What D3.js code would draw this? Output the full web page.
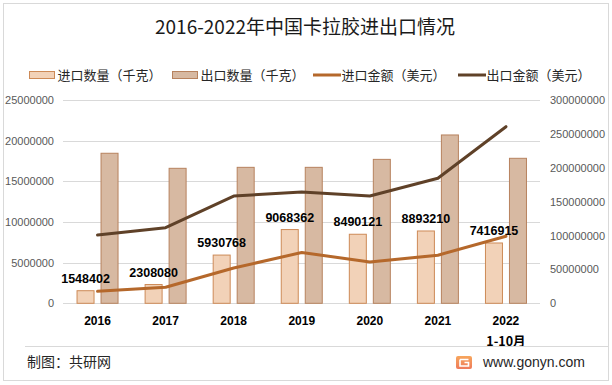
<!DOCTYPE html>
<html>
<head>
<meta charset="utf-8">
<script src="https://cdn.jsdelivr.net/npm/d3@7"></script>
<style>
    body { margin: 0; background: #fff; }
    svg { display: block; }
</style>
</head>
<body>
<script>
    // 数据
    const years = ['2016', '2017', '2018', '2019', '2020', '2021', '2022'];
    const importQty = [1548402, 2308080, 5930768, 9068362, 8490121, 8893210, 7416915];
    const exportQty = [18450000, 16600000, 16720000, 16720000, 17700000, 20700000, 17830000];
    const importAmt = [17700000, 23600000, 52000000, 75000000, 61000000, 71000000, 99000000];
    const exportAmt = [100800000, 111600000, 158300000, 164200000, 158300000, 184500000, 260600000];
    const leftTicks = [0, 5000000, 10000000, 15000000, 20000000, 25000000];
    const rightTicks = [0, 50000000, 100000000, 150000000, 200000000, 250000000, 300000000];

    const width = 612;
    const height = 385;
    const font = '"Noto Sans CJK SC", "Noto Sans", sans-serif';
    const numFont = '"Liberation Sans", Arial, sans-serif';

    const colors = {
        impBar: '#f2d2b8', impStroke: '#cd8a57',
        expBar: '#d7b9a2', expStroke: '#b7825e',
        impLine: '#b5682b', expLine: '#5f4128'
    };

    const svg = d3.select('body').append('svg')
        .attr('width', width)
        .attr('height', height);

    // 外框
    svg.append('rect')
        .attr('x', 3.5).attr('y', 3.5)
        .attr('width', 605).attr('height', 377)
        .attr('fill', '#fff')
        .attr('stroke', '#d9d9d9');

    // 标题
    svg.append('text')
        .attr('x', 305).attr('y', 34)
        .attr('text-anchor', 'middle')
        .style('font-family', font)
        .style('font-size', '19px')
        .attr('fill', '#1a1a1a')
        .text('2016-2022年中国卡拉胶进出口情况');

    const x = d3.scaleBand().domain(years).range([63.5, 540]).padding(0);
    const bw = x.bandwidth();
    const xSub = d3.scaleBand().domain(['imp', 'exp'])
        .range([bw / 2 - 21, bw / 2 + 21]).paddingInner(0.25);
    const yL = d3.scaleLinear().domain([0, 25000000]).range([303.3, 100]);
    const yR = d3.scaleLinear().domain([0, 300000000]).range([303.3, 100]);

    // 网格线
    svg.append('g')
        .selectAll('line')
        .data(leftTicks)
        .enter().append('line')
        .attr('x1', 63).attr('x2', 540)
        .attr('y1', d => Math.round(yL(d)) + 0.5)
        .attr('y2', d => Math.round(yL(d)) + 0.5)
        .attr('stroke', '#d9d9d9');

    // 左轴
    const leftAxis = svg.append('g')
        .attr('transform', 'translate(54,0)')
        .call(d3.axisLeft(yL).tickValues(leftTicks).tickSize(0).tickPadding(0).tickFormat(d3.format('d')));
    leftAxis.select('.domain').remove();
    leftAxis.selectAll('text')
        .style('font-family', numFont).style('font-size', '11px').attr('fill', '#595959');

    // 右轴
    const rightAxis = svg.append('g')
        .attr('transform', 'translate(550,0)')
        .call(d3.axisRight(yR).tickValues(rightTicks).tickSize(0).tickPadding(0).tickFormat(d3.format('d')));
    rightAxis.select('.domain').remove();
    rightAxis.selectAll('text')
        .style('font-family', numFont).style('font-size', '11px').attr('fill', '#595959');

    // 柱子
    const groups = svg.append('g')
        .selectAll('g')
        .data(years)
        .enter().append('g')
        .attr('transform', d => `translate(${x(d)},0)`);

    groups.append('rect')
        .attr('x', xSub('imp') + 0.5)
        .attr('y', (d, i) => yL(importQty[i]))
        .attr('width', xSub.bandwidth() - 1)
        .attr('height', (d, i) => yL(0) - yL(importQty[i]))
        .attr('fill', colors.impBar)
        .attr('stroke', colors.impStroke);

    groups.append('rect')
        .attr('x', xSub('exp') + 0.5)
        .attr('y', (d, i) => yL(exportQty[i]))
        .attr('width', xSub.bandwidth() - 1)
        .attr('height', (d, i) => yL(0) - yL(exportQty[i]))
        .attr('fill', colors.expBar)
        .attr('stroke', colors.expStroke);

    // 折线
    const lineR = d3.line()
        .x((d, i) => x(years[i]) + bw / 2)
        .y(d => yR(d));

    svg.append('path')
        .datum(importAmt)
        .attr('d', lineR)
        .attr('fill', 'none')
        .attr('stroke', colors.impLine)
        .attr('stroke-width', 3)
        .attr('stroke-linecap', 'round')
        .attr('stroke-linejoin', 'round');

    svg.append('path')
        .datum(exportAmt)
        .attr('d', lineR)
        .attr('fill', 'none')
        .attr('stroke', colors.expLine)
        .attr('stroke-width', 3)
        .attr('stroke-linecap', 'round')
        .attr('stroke-linejoin', 'round');

    // 数据标签
    groups.append('text')
        .attr('x', xSub('imp') + xSub.bandwidth() / 2)
        .attr('y', (d, i) => yL(importQty[i]) - 8)
        .attr('text-anchor', 'middle')
        .style('font-family', numFont)
        .style('font-size', '12.5px')
        .style('font-weight', 'bold')
        .attr('fill', '#000')
        .text((d, i) => importQty[i]);

    // X轴标签
    groups.append('text')
        .attr('x', bw / 2)
        .attr('y', 325)
        .attr('text-anchor', 'middle')
        .style('font-family', numFont)
        .style('font-size', '12px')
        .style('font-weight', 'bold')
        .attr('fill', '#000')
        .text(d => d);

    svg.append('text')
        .attr('x', x('2022') + bw / 2)
        .attr('y', 345.5)
        .attr('text-anchor', 'middle')
        .style('font-family', font)
        .style('font-size', '12.5px')
        .style('font-weight', 'bold')
        .attr('fill', '#000')
        .text('1-10月');

    // 图例
    const legend = [
        { label: '进口数量（千克）', type: 'bar', fill: colors.impBar, stroke: colors.impStroke, x: 29 },
        { label: '出口数量（千克）', type: 'bar', fill: colors.expBar, stroke: colors.expStroke, x: 172 },
        { label: '进口金额（美元）', type: 'line', stroke: colors.impLine, x: 313 },
        { label: '出口金额（美元）', type: 'line', stroke: colors.expLine, x: 458 }
    ];
    const lg = svg.append('g')
        .selectAll('g')
        .data(legend)
        .enter().append('g')
        .attr('transform', d => `translate(${d.x},75)`);

    lg.filter(d => d.type === 'bar').append('rect')
        .attr('x', 0.5).attr('y', -3.5)
        .attr('width', 25).attr('height', 7)
        .attr('fill', d => d.fill)
        .attr('stroke', d => d.stroke);

    lg.filter(d => d.type === 'line').append('line')
        .attr('x1', 0).attr('x2', 28)
        .attr('y1', 0).attr('y2', 0)
        .attr('stroke', d => d.stroke)
        .attr('stroke-width', 3);

    lg.append('text')
        .attr('x', 28.5)
        .attr('y', 0)
        .attr('dy', '0.36em')
        .style('font-family', font)
        .style('font-size', '13px')
        .attr('fill', '#262626')
        .text(d => d.label);

    // 底部
    svg.append('line')
        .attr('x1', 25).attr('x2', 608)
        .attr('y1', 346.5).attr('y2', 346.5)
        .attr('stroke', '#d9d9d9');

    svg.append('text')
        .attr('x', 27).attr('y', 362)
        .attr('dy', '0.36em')
        .style('font-family', font)
        .style('font-size', '14px')
        .attr('fill', '#262626')
        .text('制图：共研网');

    const grad = svg.append('defs').append('linearGradient')
        .attr('id', 'logoGrad')
        .attr('x1', 0).attr('y1', 0).attr('x2', 0).attr('y2', 1);
    grad.append('stop').attr('offset', '0%').attr('stop-color', '#f7a65c');
    grad.append('stop').attr('offset', '100%').attr('stop-color', '#ee7a5a');

    svg.append('rect')
        .attr('x', 456).attr('y', 356)
        .attr('width', 16).attr('height', 13)
        .attr('rx', 2)
        .attr('fill', 'url(#logoGrad)');
    svg.append('path')
        .attr('d', 'M460,359.5 H468.5 M460,359.5 V366 H468.5 V362.5 H464.5')
        .attr('fill', 'none')
        .attr('stroke', '#fff')
        .attr('stroke-width', 1.6);

    svg.append('text')
        .attr('x', 483).attr('y', 362)
        .attr('dy', '0.36em')
        .style('font-family', '"Liberation Sans", Arial, sans-serif')
        .style('font-size', '14px')
        .attr('fill', '#262626')
        .text('www.gonyn.com');
</script>
</body>
</html>
